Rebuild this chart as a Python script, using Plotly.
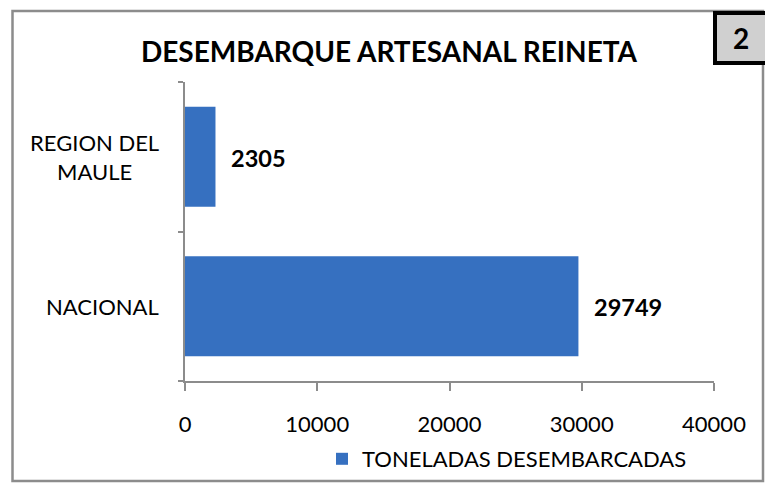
import plotly.graph_objects as go

# ---- data ----
categories = ["NACIONAL", "REGION DEL<br>MAULE"]
toneladas = [29749, 2305]
series_name = "TONELADAS DESEMBARCADAS"
x_ticks = [0, 10000, 20000, 30000, 40000]
title_text = "DESEMBARQUE ARTESANAL REINETA"
badge_text = "2"

W, H = 765, 483
L, R, T, B = 185, 714, 82, 381  # plot area in pixels


def px(x):
    return (x - L) / (R - L)


def py(y):
    return (B - y) / (B - T)


FONT = "Lato, Carlito, Calibri, sans-serif"

fig = go.Figure()
fig.add_trace(go.Bar(
    y=categories,
    x=toneladas,
    orientation="h",
    name=series_name,
    width=0.67,
    marker=dict(color="#3670c0", line=dict(width=0)),
    showlegend=True,
))

annotations = []
for c, v in zip(categories, toneladas):
    annotations.append(dict(
        x=v, y=c, xref="x", yref="y", text=f"<b>{v}</b>",
        showarrow=False, xanchor="left", yanchor="middle", xshift=14, yshift=-1,
        font=dict(family=FONT, size=23.5, color="#000"),
    ))
    annotations.append(dict(
        x=0, y=c, xref="paper", yref="y", text=c,
        showarrow=False, xanchor="right", yanchor="middle", xshift=-24,
        align="center",
        font=dict(family=FONT, size=22, color="#000"),
    ))

annotations.append(dict(
    x=px(741), y=py(38), xref="paper", yref="paper", text=f"<b>{badge_text}</b>",
    showarrow=False, xanchor="center", yanchor="middle",
    font=dict(family=FONT, size=28, color="#000"),
))

shapes = [
    dict(type="rect", xref="paper", yref="paper",
         x0=px(12.5), x1=px(763), y0=py(481), y1=py(11),
         line=dict(color="#8c8c8c", width=2.5), fillcolor="rgba(0,0,0,0)", layer="above"),
    dict(type="rect", xref="paper", yref="paper",
         x0=px(715), x1=px(775), y0=py(63), y1=py(13),
         line=dict(color="#000", width=4), fillcolor="#d0d0d0", layer="above"),
]

fig.update_layout(
    width=W, height=H,
    margin=dict(l=L, r=W - R, t=T, b=H - B, autoexpand=False),
    paper_bgcolor="#fff", plot_bgcolor="#fff",
    font=dict(family=FONT, size=22, color="#000"),
    title=dict(text=f"<b>{title_text}</b>", x=389 / W, xanchor="center",
               y=1 - 52 / H, yanchor="middle",
               font=dict(family=FONT, size=28, color="#000")),
    xaxis=dict(range=[0, 40000], tickvals=x_ticks, ticktext=[str(t) for t in x_ticks],
               showgrid=False, zeroline=False, showline=True, linecolor="#8c8c8c",
               linewidth=2, ticks="outside", ticklen=8, tickcolor="#8c8c8c", tickwidth=2,
               ticklabelstandoff=15, tickfont=dict(family=FONT, size=22, color="#000"),
               fixedrange=True, automargin=False),
    yaxis=dict(categoryorder="array", categoryarray=categories, range=[-0.5, 1.5],
               showgrid=False, zeroline=False, showline=True, linecolor="#8c8c8c",
               linewidth=2, ticks="outside", ticklen=5, tickcolor="#8c8c8c", tickwidth=2,
               tickson="boundaries", showticklabels=False, fixedrange=True, automargin=False),
    legend=dict(orientation="h", x=px(322), y=py(438), xanchor="left", yanchor="top",
                font=dict(family=FONT, size=22, color="#000"),
                bgcolor="rgba(0,0,0,0)"),
    annotations=annotations,
    shapes=shapes,
    bargap=0.33,
)

fig.write_html("out.html", config={"displayModeBar": False},
               post_script="document.body.style.margin='0';")
